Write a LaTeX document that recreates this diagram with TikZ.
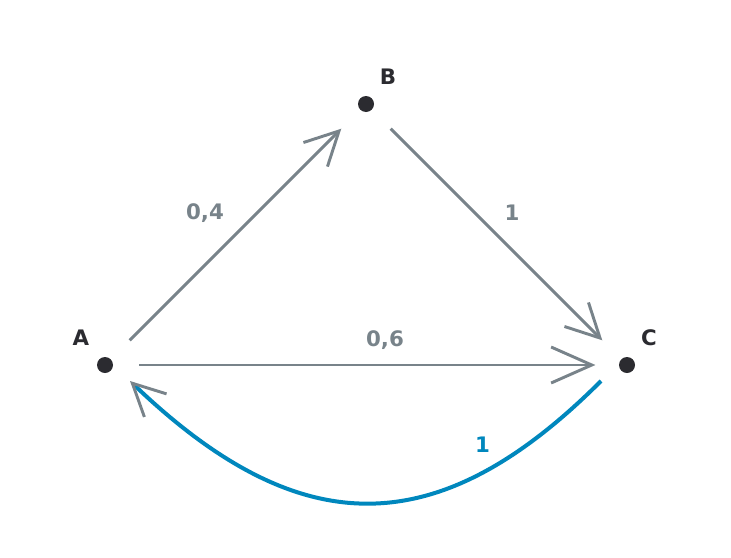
\documentclass[tikz,border=0pt]{standalone}
\usepackage{fontspec}
\setmainfont{DejaVu Sans}
\usetikzlibrary{arrows.meta}
\definecolor{edgegray}{HTML}{78838A}
\definecolor{dotblack}{HTML}{2B2B30}
\definecolor{flowblue}{HTML}{0087BD}

\begin{document}
\begin{tikzpicture}[x=0.75pt,y=-0.75pt,>={Straight Barb[length=25pt,width=25.5pt]}]
  \tikzstyle{state}=[circle,fill=dotblack,inner sep=0pt,minimum size=12pt]
  \tikzstyle{statename}=[font=\bfseries\fontsize{16}{19}\selectfont,text=dotblack]
  \tikzstyle{weight}=[font=\bfseries\fontsize{16}{19}\selectfont,text=edgegray]
  \tikzstyle{link}=[->,edgegray,line width=2.2pt,shorten <=20pt,shorten >=20pt]
  \tikzstyle{back}=[-{Straight Barb[length=24pt,width=24pt,color=edgegray,line width=2.2pt]},
        flowblue,line width=3pt]
  \useasboundingbox (0,0) rectangle (731,557);
    \node [state] (A) at (105,365) [label={[statename,xshift=-18pt,yshift=20.25pt]center:A}] {};
    \node [state] (B) at (366,104) [label={[statename,xshift=16.5pt,yshift=20.25pt]center:B}] {};
    \node [state] (C) at (627,365) [label={[statename,xshift=16.5pt,yshift=20.25pt]center:C}] {};
    \draw [link] (A) -- node [weight,xshift=-22.9pt,yshift=16.1pt] {0,4} (B);
    \draw [link] (B) -- node [weight,xshift=11.6pt,yshift=16.1pt] {1} (C);
    \draw [link,-{Straight Barb[length=30.5pt,width=27pt]},shorten <=19.5pt,shorten >=17.5pt]
        (A) -- node [weight,xshift=14.25pt,yshift=18.75pt] {0,6} (C);
    \draw [back] ([shift={(-26,16)}]C.center) .. controls (438,544) and (300,544)
        .. node [pos=0.25,weight,text=flowblue,yshift=20.7pt] {1} ([shift={(25,16)}]A.center);
\end{tikzpicture}
\end{document}
